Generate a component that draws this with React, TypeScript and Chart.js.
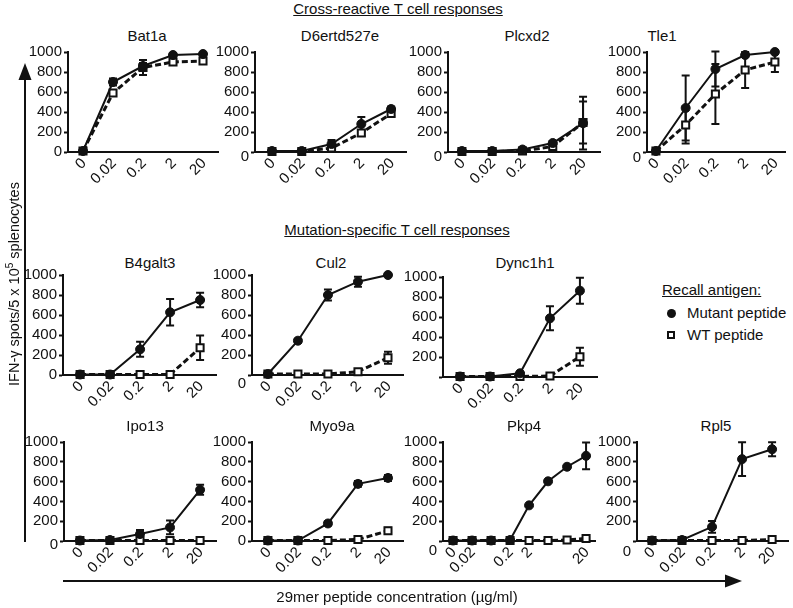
import React, { useEffect, useRef } from 'react';
import { Chart, registerables } from 'chart.js';

Chart.register(...registerables);

const FONT = '"Liberation Sans", Arial, Helvetica, sans-serif';
const INK = '#111111';
const FS = 15;

// ---- tick labels (peptide concentration, µg/ml) ----
const concLabels = ['0', '0.02', '0.2', '2', '20'];
const pkp4Labels = ['0', '0.02', '', '0.2', '2', '', '', '20'];

// ---- Cross-reactive T cell responses ----
const bat1aMutant = [10, 700, 860, 970, 980];
const bat1aMutantErr = [0, 35, 30, 15, 10];
const bat1aWt = [10, 590, 845, 900, 910];
const bat1aWtErr = [0, 25, 75, 20, 25];

const d6ertdMutant = [10, 10, 80, 280, 430];
const d6ertdMutantErr = [0, 0, 40, 70, 25];
const d6ertdWt = [5, 5, 40, 190, 385];
const d6ertdWtErr = [0, 0, 20, 30, 25];

const plcxd2Mutant = [10, 10, 25, 90, 288];
const plcxd2MutantErr = [0, 0, 10, 20, 264];
const plcxd2Wt = [5, 5, 10, 55, 295];
const plcxd2WtErr = [0, 0, 0, 15, 210];

const tle1Mutant = [10, 440, 830, 970, 1000];
const tle1MutantErr = [0, 325, 175, 15, 0];
const tle1Wt = [10, 270, 580, 820, 900];
const tle1WtErr = [0, 185, 300, 180, 100];

// ---- Mutation-specific T cell responses ----
const b4galt3Mutant = [5, 5, 257, 627, 750];
const b4galt3MutantErr = [0, 0, 75, 133, 73];
const b4galt3Wt = [5, 5, 5, 5, 273];
const b4galt3WtErr = [0, 0, 0, 0, 123];

const cul2Mutant = [10, 343, 800, 933, 1000];
const cul2MutantErr = [0, 20, 55, 50, 0];
const cul2Wt = [10, 10, 10, 33, 173];
const cul2WtErr = [0, 0, 0, 10, 60];

const dync1h1Mutant = [5, 5, 37, 587, 863];
const dync1h1MutantErr = [0, 0, 0, 120, 130];
const dync1h1Wt = [5, 5, 5, 10, 203];
const dync1h1WtErr = [0, 0, 0, 0, 90];

const ipo13Mutant = [5, 10, 70, 137, 517];
const ipo13MutantErr = [0, 0, 40, 70, 50];
const ipo13Wt = [5, 5, 5, 5, 5];
const ipo13WtErr = [0, 0, 0, 0, 0];

const myo9aMutant = [5, 5, 177, 577, 637];
const myo9aMutantErr = [0, 0, 20, 30, 30];
const myo9aWt = [5, 5, 5, 15, 103];
const myo9aWtErr = [0, 0, 0, 0, 30];

const pkp4Mutant = [5, 5, 5, 10, 360, 603, 750, 860];
const pkp4MutantErr = [0, 0, 0, 0, 0, 0, 0, 135];
const pkp4Wt = [5, 5, 5, 5, 5, 5, 10, 25];
const pkp4WtErr = [0, 0, 0, 0, 0, 0, 0, 10];

const rpl5Mutant = [5, 10, 143, 827, 927];
const rpl5MutantErr = [0, 0, 60, 170, 70];
const rpl5Wt = [5, 5, 5, 5, 15];
const rpl5WtErr = [0, 0, 0, 0, 0];

const panels = [
  { title: 'Bat1a', labels: concLabels, mutant: bat1aMutant, mutantErr: bat1aMutantErr, wt: bat1aWt, wtErr: bat1aWtErr },
  { title: 'D6ertd527e', labels: concLabels, mutant: d6ertdMutant, mutantErr: d6ertdMutantErr, wt: d6ertdWt, wtErr: d6ertdWtErr },
  { title: 'Plcxd2', labels: concLabels, mutant: plcxd2Mutant, mutantErr: plcxd2MutantErr, wt: plcxd2Wt, wtErr: plcxd2WtErr },
  { title: 'Tle1', labels: concLabels, mutant: tle1Mutant, mutantErr: tle1MutantErr, wt: tle1Wt, wtErr: tle1WtErr },
  { title: 'B4galt3', labels: concLabels, mutant: b4galt3Mutant, mutantErr: b4galt3MutantErr, wt: b4galt3Wt, wtErr: b4galt3WtErr },
  { title: 'Cul2', labels: concLabels, mutant: cul2Mutant, mutantErr: cul2MutantErr, wt: cul2Wt, wtErr: cul2WtErr },
  { title: 'Dync1h1', labels: concLabels, mutant: dync1h1Mutant, mutantErr: dync1h1MutantErr, wt: dync1h1Wt, wtErr: dync1h1WtErr },
  { title: 'Ipo13', labels: concLabels, mutant: ipo13Mutant, mutantErr: ipo13MutantErr, wt: ipo13Wt, wtErr: ipo13WtErr },
  { title: 'Myo9a', labels: concLabels, mutant: myo9aMutant, mutantErr: myo9aMutantErr, wt: myo9aWt, wtErr: myo9aWtErr },
  { title: 'Pkp4', labels: pkp4Labels, mutant: pkp4Mutant, mutantErr: pkp4MutantErr, wt: pkp4Wt, wtErr: pkp4WtErr },
  { title: 'Rpl5', labels: concLabels, mutant: rpl5Mutant, mutantErr: rpl5MutantErr, wt: rpl5Wt, wtErr: rpl5WtErr },
];

// ---- layout (plot-area edges in page pixels) ----
const layout = [
  { left: 68, right: 218, top: 52, bottom: 152, xMin: -0.5, xMax: 4.5, titleX: 147, titleY: 35.5, zeroDy: 0 },
  { left: 255, right: 406, top: 52, bottom: 152, xMin: -0.57, xMax: 4.5, titleX: 340, titleY: 35.5, zeroDy: 5 },
  { left: 448, right: 600, top: 52, bottom: 152, xMin: -0.46, xMax: 4.56, titleX: 527, titleY: 35.5, zeroDy: 5 },
  { left: 647, right: 785, top: 52, bottom: 152, xMin: -0.3, xMax: 4.34, titleX: 662, titleY: 35.5, zeroDy: 6 },
  { left: 63, right: 216, top: 275, bottom: 375, xMin: -0.57, xMax: 4.53, titleX: 150, titleY: 262.5, zeroDy: 0 },
  { left: 252, right: 403, top: 275, bottom: 375, xMin: -0.53, xMax: 4.5, titleX: 331, titleY: 262.5, zeroDy: 9 },
  { left: 443, right: 597, top: 277, bottom: 377, xMin: -0.57, xMax: 4.57, titleX: 525, titleY: 263, zeroDy: null },
  { left: 64, right: 216, top: 442, bottom: 541, xMin: -0.53, xMax: 4.53, titleX: 145, titleY: 426, zeroDy: 4 },
  { left: 252, right: 403, top: 442, bottom: 541, xMin: -0.53, xMax: 4.5, titleX: 332, titleY: 426, zeroDy: 0 },
  { left: 443, right: 595, top: 442, bottom: 541, xMin: -0.53, xMax: 7.47, titleX: 524, titleY: 426, zeroDy: 10 },
  { left: 637, right: 788, top: 442, bottom: 541, xMin: -0.5, xMax: 4.53, titleX: 716, titleY: 426, zeroDy: 11 },
];

const PADL = 60;
const PADT = 14;
const PADR = 16;
const PADB = 50;

const errorBarPlugin = {
  id: 'errorBars',
  beforeDatasetsDraw(chart: any) {
    const ctx = chart.ctx;
    const ys = chart.scales.y;
    ctx.save();
    ctx.strokeStyle = INK;
    ctx.lineWidth = 2;
    ctx.setLineDash([]);
    chart.data.datasets.forEach((ds: any, di: number) => {
      const meta = chart.getDatasetMeta(di);
      const errs = ds.errors || [];
      meta.data.forEach((pt: any, i: number) => {
        const e = errs[i];
        if (!e) return;
        const v = ds.data[i].y;
        const x = pt.x;
        const yHi = ys.getPixelForValue(v + e);
        const yLo = ys.getPixelForValue(v - e);
        ctx.beginPath();
        ctx.moveTo(x, yHi);
        ctx.lineTo(x, yLo);
        ctx.moveTo(x - 4, yHi);
        ctx.lineTo(x + 4, yHi);
        ctx.moveTo(x - 4, yLo);
        ctx.lineTo(x + 4, yLo);
        ctx.stroke();
      });
    });
    ctx.restore();
  },
};

// zero label of the value axis (offset per panel, as in the figure)
function zeroLabelPlugin(dy: number | null) {
  return {
    id: 'zeroLabel',
    afterDraw(chart: any) {
      if (dy === null || dy === undefined) return;
      const ys = chart.scales.y;
      const ctx = chart.ctx;
      ctx.save();
      ctx.font = `${FS}px ${FONT}`;
      ctx.fillStyle = INK;
      ctx.textAlign = 'right';
      ctx.textBaseline = 'middle';
      ctx.fillText('0', ys.right - 6, ys.getPixelForValue(0) + dy);
      ctx.restore();
    },
  };
}

// concentration labels, rotated 45°, placed on the x scale
function xLabelPlugin(labels: string[]) {
  return {
    id: 'xLabels',
    afterDraw(chart: any) {
      const xs = chart.scales.x;
      const ctx = chart.ctx;
      ctx.save();
      ctx.font = `${FS}px ${FONT}`;
      ctx.fillStyle = INK;
      ctx.textAlign = 'right';
      ctx.textBaseline = 'middle';
      labels.forEach((l, i) => {
        if (!l) return;
        ctx.save();
        ctx.translate(xs.getPixelForValue(i) + 1, xs.top + 9);
        ctx.rotate(-Math.PI / 4);
        ctx.fillText(l, 0, 0);
        ctx.restore();
      });
      ctx.restore();
    },
  };
}

function Panel({ d, g }: any) {
  const ref = useRef<HTMLCanvasElement>(null);
  const w = g.right - g.left + PADL + PADR;
  const h = g.bottom - g.top + PADT + PADB;
  useEffect(() => {
    const chart = new Chart(ref.current as HTMLCanvasElement, {
      type: 'line',
      data: {
        datasets: [
          {
            label: 'Mutant peptide',
            data: d.mutant.map((v: number, i: number) => ({ x: i, y: v })),
            errors: d.mutantErr,
            borderColor: INK,
            backgroundColor: INK,
            borderWidth: 2,
            pointStyle: 'circle',
            pointRadius: 4.5,
            pointBackgroundColor: INK,
            pointBorderColor: INK,
            pointBorderWidth: 1,
            clip: false,
            tension: 0,
          } as any,
          {
            label: 'WT peptide',
            data: d.wt.map((v: number, i: number) => ({ x: i, y: v })),
            errors: d.wtErr,
            borderColor: INK,
            backgroundColor: '#fff',
            borderWidth: 3,
            borderDash: [6, 3],
            pointStyle: 'rect',
            pointRadius: 5,
            pointBackgroundColor: '#fff',
            pointBorderColor: INK,
            pointBorderWidth: 2,
            clip: false,
            tension: 0,
          } as any,
        ],
      },
      options: {
        animation: false,
        responsive: false,
        events: [],
        layout: { padding: { left: 0, top: PADT, right: PADR, bottom: 0 } },
        plugins: {
          legend: { display: false },
          tooltip: { enabled: false },
          title: { display: false },
        },
        scales: {
          x: {
            type: 'linear',
            min: g.xMin,
            max: g.xMax,
            afterFit: (s: any) => {
              s.height = PADB;
            },
            afterBuildTicks: (s: any) => {
              s.ticks = d.labels
                .map((_l: string, i: number) => ({ value: i }))
                .filter((t: any) => d.labels[t.value] !== '');
            },
            ticks: { display: false },
            grid: { display: false, drawTicks: false },
            border: { display: true, color: INK, width: 2 },
          },
          y: {
            min: 0,
            max: 1000,
            afterFit: (s: any) => {
              s.width = PADL;
            },
            ticks: {
              stepSize: 200,
              autoSkip: false,
              padding: 2,
              color: INK,
              font: { size: FS, family: FONT },
              callback: (v: any) => (v === 0 ? '' : String(v)),
            },
            grid: {
              drawOnChartArea: false,
              drawTicks: true,
              tickLength: 4,
              tickColor: INK,
              tickWidth: 2,
              color: INK,
            },
            border: { display: true, color: INK, width: 2 },
          },
        } as any,
      },
      plugins: [errorBarPlugin, zeroLabelPlugin(g.zeroDy), xLabelPlugin(d.labels)],
    } as any);
    return () => chart.destroy();
  }, []);
  return (
    <canvas
      ref={ref}
      width={w}
      height={h}
      style={{ position: 'absolute', left: g.left - PADL, top: g.top - PADT, width: w, height: h, display: 'block' }}
    />
  );
}

const textBase: any = {
  position: 'absolute',
  fontFamily: FONT,
  fontSize: FS,
  lineHeight: '16px',
  color: INK,
  whiteSpace: 'nowrap',
};

function Txt({ x, y, children, align = 'center', underline = false }: any) {
  const style: any = { ...textBase, top: y - 8, left: x };
  if (align === 'center') style.transform = 'translateX(-50%)';
  if (underline) style.textDecoration = 'underline';
  return <div style={style}>{children}</div>;
}

export default function App() {
  return (
    <div style={{ position: 'absolute', left: 0, top: 0, width: 793, height: 608, background: '#fff', overflow: 'hidden' }}>
      <Txt x={398} y={8.5} underline>Cross-reactive T cell responses</Txt>
      <Txt x={397} y={230} underline>Mutation-specific T cell responses</Txt>

      {panels.map((d, i) => (
        <React.Fragment key={d.title}>
          <Txt x={layout[i].titleX} y={layout[i].titleY}>{d.title}</Txt>
          <Panel d={d} g={layout[i]} />
        </React.Fragment>
      ))}

      {/* legend */}
      <Txt x={662} y={290} align="left" underline>Recall antigen:</Txt>
      <div style={{ position: 'absolute', left: 666.5, top: 308.5, width: 9, height: 9, borderRadius: '50%', background: INK }} />
      <Txt x={687} y={313} align="left">Mutant peptide</Txt>
      <div style={{ position: 'absolute', left: 667, top: 331, width: 4, height: 4, border: `2.5px solid ${INK}`, background: '#fff' }} />
      <Txt x={687} y={335} align="left">WT peptide</Txt>

      {/* axis arrows */}
      <svg width={793} height={608} style={{ position: 'absolute', left: 0, top: 0 }}>
        <line x1={25} y1={542} x2={25} y2={75} stroke={INK} strokeWidth={2} />
        <polygon points="25,63 18.5,80 31.5,80" fill={INK} />
        <line x1={63} y1={581} x2={730} y2={581} stroke={INK} strokeWidth={2} />
        <polygon points="742,581 725,574.5 725,587.5" fill={INK} />
      </svg>

      {/* axis titles */}
      <div
        style={{
          ...textBase,
          fontSize: 14.5,
          left: 14,
          top: 284,
          transform: 'translate(-50%, -50%) rotate(-90deg)',
        }}
      >
        IFN-γ spots/5 x 10<sup style={{ fontSize: 10, lineHeight: 0, verticalAlign: 'super' }}>5</sup> splenocytes
      </div>
      <Txt x={397} y={597}>29mer peptide concentration (µg/ml)</Txt>
    </div>
  );
}
